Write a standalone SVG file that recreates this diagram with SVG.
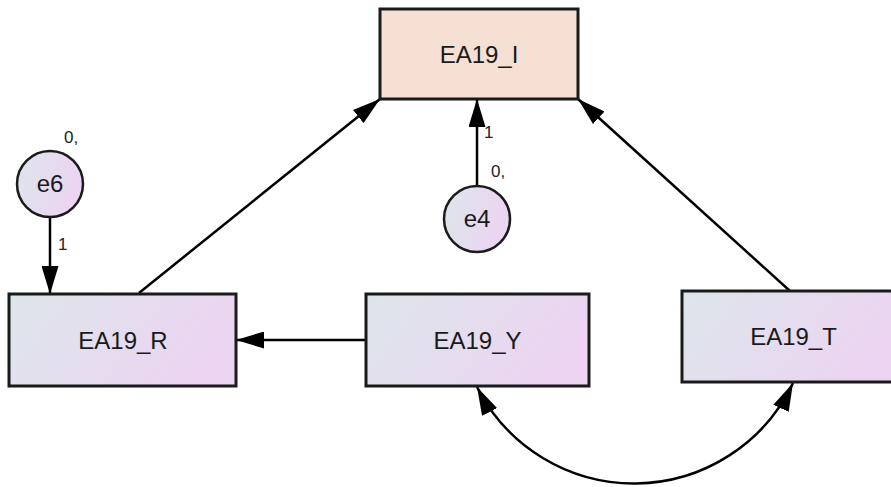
<svg xmlns="http://www.w3.org/2000/svg" width="891" height="487" viewBox="0 0 891 487">
<defs>
<linearGradient id="g" x1="0" y1="0" x2="1" y2="0.3">
<stop offset="0" stop-color="#dde6ea"/>
<stop offset="1" stop-color="#ecd4f2"/>
</linearGradient>
<marker id="ah" markerUnits="userSpaceOnUse" viewBox="0 0 28 17" refX="28" refY="8.5" markerWidth="28" markerHeight="17" orient="auto-start-reverse">
<path d="M0,0 L28,8.5 L0,17 z" fill="#000"/>
</marker>
<style>
.box{fill:url(#g);stroke:#1a1a1a;stroke-width:3}
.lat{fill:url(#g);stroke:#1a1a1a;stroke-width:2.5}
.lbl{font-family:"Liberation Sans",Arial,sans-serif;font-size:24px;fill:#1a1a1a;text-anchor:middle}
.sm{font-family:"Liberation Sans",Arial,sans-serif;font-size:17px;fill:#222}
.ln{fill:none;stroke:#000;stroke-width:2.5}
</style>
</defs>
<rect width="891" height="487" fill="#fff"/>
<g id="connectors">
<line class="ln" x1="50" y1="217" x2="50" y2="294" marker-end="url(#ah)"/>
<line class="ln" x1="477" y1="186" x2="477" y2="99" marker-end="url(#ah)"/>
<line class="ln" x1="139" y1="293" x2="380" y2="99" marker-end="url(#ah)"/>
<line class="ln" x1="790" y1="291" x2="578" y2="99" marker-end="url(#ah)"/>
<line class="ln" x1="366" y1="340" x2="236" y2="340" marker-end="url(#ah)"/>
<path class="ln" d="M477,387 A176 176 0 0 0 793,383" marker-start="url(#ah)" marker-end="url(#ah)"/>
<text class="sm" x="58" y="250">1</text>
<text class="sm" x="484" y="138">1</text>
</g>
<g id="EA19_I">
<rect x="380" y="9" width="198" height="90" fill="#f5e0d3" stroke="#1a1a1a" stroke-width="3"/>
<text class="lbl" x="479" y="63">EA19_I</text>
</g>
<g id="EA19_R">
<rect class="box" x="9" y="294" width="227" height="92"/>
<text class="lbl" x="123" y="349">EA19_R</text>
</g>
<g id="EA19_Y">
<rect class="box" x="366" y="294" width="223" height="92"/>
<text class="lbl" x="477.5" y="349">EA19_Y</text>
</g>
<g id="EA19_T">
<rect class="box" x="682" y="291" width="223" height="91"/>
<text class="lbl" x="793.5" y="345">EA19_T</text>
</g>
<g id="e6">
<circle class="lat" cx="50" cy="184" r="33"/>
<text class="lbl" x="50" y="192">e6</text>
<text class="sm" x="64" y="143">0,</text>
</g>
<g id="e4">
<circle class="lat" cx="477" cy="219" r="33"/>
<text class="lbl" x="477" y="227">e4</text>
<text class="sm" x="491" y="177">0,</text>
</g>
</svg>
